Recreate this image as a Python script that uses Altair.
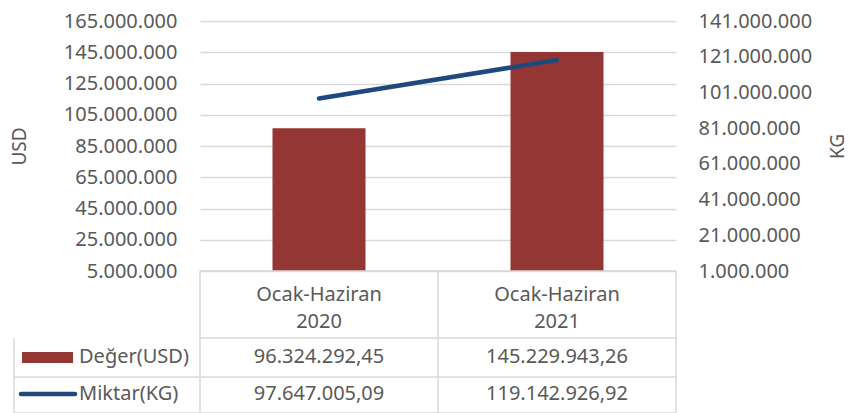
import altair as alt
import pandas as pd

periods = ["Ocak-Haziran 2020", "Ocak-Haziran 2021"]
header_line1 = ["Ocak-Haziran", "Ocak-Haziran"]
header_line2 = ["2020", "2021"]
usd_values = [96324292.45, 145229943.26]
kg_values = [97647005.09, 119142926.92]
series_names = ["Değer(USD)", "Miktar(KG)"]
usd_ticks = [5000000, 25000000, 45000000, 65000000, 85000000, 105000000, 125000000, 145000000, 165000000]
kg_ticks = [1000000, 21000000, 41000000, 61000000, 81000000, 101000000, 121000000, 141000000]


def tr(v):
    s = f"{v:,.2f}"
    return s.replace(",", "X").replace(".", ",").replace("X", ".")


df = pd.DataFrame({
    "period": periods,
    "h1": header_line1,
    "h2": header_line2,
    "usd": usd_values,
    "kg": kg_values,
    "usd_txt": [tr(v) for v in usd_values],
    "kg_txt": [tr(v) for v in kg_values],
})

FONT = "Noto Sans"
GREY = "#595959"
LINE = "#d9d9d9"
RED = "#943634"
BLUE = "#1F497D"
W, H = 476, 250

xenc = alt.X("period:N", scale=alt.Scale(domain=periods, paddingInner=0, paddingOuter=0), axis=None)
lbl = "join(split(format(datum.value, ','), ','), '.')"

base = alt.Chart(df)

bars = base.mark_bar(size=93, color=RED, clip=True).encode(
    x=xenc,
    y=alt.Y("usd:Q",
            scale=alt.Scale(domain=[usd_ticks[0], usd_ticks[-1]], zero=False, nice=False),
            axis=alt.Axis(values=usd_ticks, labelExpr=lbl, grid=True, gridColor=LINE, gridWidth=1.5,
                          domain=False, ticks=False, labelPadding=23, labelFontSize=20, labelFont=FONT,
                          labelColor=GREY, title="USD", titleFont=FONT, titleFontSize=19,
                          titleFontWeight="normal", titleColor=GREY, titleAngle=270,
                          titleX=-181, titleY=H / 2, titleAlign="center", titleBaseline="middle",
                          labelOverlap=False)),
)

line = base.mark_line(color=BLUE, strokeWidth=4.5, strokeCap="round").encode(
    x=xenc,
    y=alt.Y("kg:Q",
            scale=alt.Scale(domain=[kg_ticks[0], kg_ticks[-1]], zero=False, nice=False),
            axis=alt.Axis(orient="right", values=kg_ticks, labelExpr=lbl, grid=False,
                          domain=False, ticks=False, labelPadding=22, labelFontSize=20, labelFont=FONT,
                          labelColor=GREY, title="KG", titleFont=FONT, titleFontSize=19,
                          titleFontWeight="normal", titleColor=GREY, titleAngle=270,
                          titleX=161, titleY=H / 2, titleAlign="center", titleBaseline="middle",
                          labelOverlap=False)),
)

# table grid (decoration)
grid_df = pd.DataFrame({
    "x": [0, 0, -186, -186, 0, W / 2, W, -186],
    "x2": [W, W, W, W, 0, W / 2, W, -186],
    "y": [H, 317, 356, 392, H, H, H, 317],
    "y2": [H, 317, 356, 392, 392, 392, 392, 392],
})
table_rules = alt.Chart(grid_df).mark_rule(color=LINE, strokeWidth=1.5).encode(
    x=alt.X("x:Q", scale=None), x2="x2", y=alt.Y("y:Q", scale=None), y2="y2"
)

txt = dict(font=FONT, fontSize=20, color=GREY, align="center", baseline="middle")
h1 = base.mark_text(**txt).encode(x=xenc, y=alt.value(274), text="h1:N")
h2 = base.mark_text(**txt).encode(x=xenc, y=alt.value(301), text="h2:N")
r1 = base.mark_text(**txt).encode(x=xenc, y=alt.value(336), text="usd_txt:N")
r2 = base.mark_text(**txt).encode(x=xenc, y=alt.value(373), text="kg_txt:N")

leg_df = pd.DataFrame({"name": series_names, "y": [336, 373]})
leg_text = alt.Chart(leg_df).mark_text(font=FONT, fontSize=20, color=GREY, align="left",
                                       baseline="middle").encode(
    x=alt.value(-121), y=alt.Y("y:Q", scale=None), text="name:N")
leg_rect = alt.Chart(leg_df.iloc[[0]]).mark_rect(color=RED).encode(
    x=alt.value(-178), x2=alt.value(-127), y=alt.value(331), y2=alt.value(342))
leg_line = alt.Chart(leg_df.iloc[[1]]).mark_rule(color=BLUE, strokeWidth=4.5, strokeCap="round").encode(
    x=alt.value(-179), x2=alt.value(-125), y=alt.value(373))

chart = alt.layer(bars, line, table_rules, h1, h2, r1, r2, leg_text, leg_rect, leg_line).resolve_scale(
    y="independent"
).properties(
    width=W, height=H,
    autosize=alt.AutoSizeParams(type="none"),
    padding={"left": 192, "top": 13, "right": 169, "bottom": 142},
).configure_view(stroke=None)

chart.save("out.html", embed_options={"renderer": "svg", "actions": False})
